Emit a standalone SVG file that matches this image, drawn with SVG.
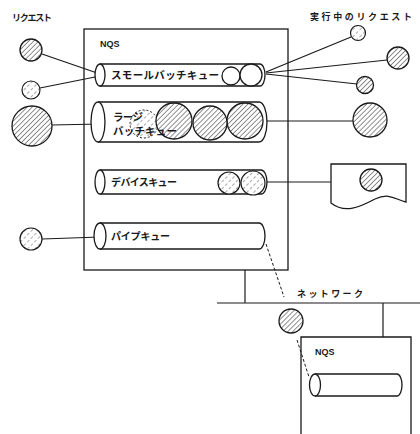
<svg xmlns="http://www.w3.org/2000/svg" width="420" height="434" viewBox="0 0 420 434">
<defs>
<pattern id="hatch" width="3.5" height="3.5" patternUnits="userSpaceOnUse" patternTransform="rotate(45)">
<rect width="3.5" height="3.5" fill="#fff"/>
<line x1="0" y1="0" x2="0" y2="3.5" stroke="#222" stroke-width="1"/>
</pattern>
<pattern id="hatchLight" width="5" height="5" patternUnits="userSpaceOnUse" patternTransform="rotate(45)">
<rect width="5" height="5" fill="#fff"/>
<line x1="0" y1="0" x2="0" y2="5" stroke="#444" stroke-width="0.9" stroke-dasharray="2 2"/>
</pattern>
</defs>
<style>
.ln{stroke:#1a1a1a;stroke-width:1.2;fill:none}
.box{stroke:#1a1a1a;stroke-width:1.3;fill:none}
.cyl{stroke:#1a1a1a;stroke-width:1.3;fill:#fff}
.hc{stroke:#1a1a1a;stroke-width:1.3;fill:url(#hatch)}
.lc{stroke:#1a1a1a;stroke-width:1.2;fill:url(#hatchLight)}
.wc{stroke:#1a1a1a;stroke-width:1.3;fill:#fff}
.dash{stroke:#1a1a1a;stroke-width:1;fill:none;stroke-dasharray:3 2}
.jp{font-family:"Noto Sans CJK JP","Noto Sans CJK SC",sans-serif;fill:#1a1a1a;font-weight:bold}
.en{font-family:"Liberation Sans",Arial,sans-serif;fill:#1a1a1a;font-weight:bold;font-size:9px}
</style>

<text class="jp" x="12" y="21" font-size="9" textLength="40">リクエスト</text>
<text class="jp" x="310" y="20" font-size="9" textLength="102">実行中のリクエスト</text>

<g id="nqs-main">
<rect class="box" x="84" y="29" width="204" height="241"/>
<text class="en" x="100" y="47">NQS</text>
</g>

<g id="connectors">
<line class="ln" x1="42" y1="54" x2="100" y2="74"/>
<line class="ln" x1="40" y1="88" x2="100" y2="76"/>
<line class="ln" x1="52" y1="125" x2="100" y2="124"/>
<line class="ln" x1="42" y1="239" x2="100" y2="237"/>
<line class="ln" x1="266" y1="72" x2="351" y2="37"/>
<line class="ln" x1="266" y1="73" x2="387" y2="60"/>
<line class="ln" x1="266" y1="74" x2="357" y2="84"/>
<line class="ln" x1="267" y1="121" x2="353" y2="121"/>
<line class="ln" x1="267" y1="182" x2="331" y2="182"/>
<line class="ln" x1="245" y1="270" x2="245" y2="303"/>
<line class="ln" x1="217" y1="303" x2="420" y2="303"/>
<line class="ln" x1="383" y1="303" x2="383" y2="337"/>
<line class="dash" x1="266" y1="244" x2="284" y2="297"/>
<line class="dash" x1="297" y1="340" x2="309" y2="377"/>
</g>

<g id="req-small-1"><circle class="hc" cx="31" cy="50" r="11"/></g>
<g id="req-small-2"><circle class="lc" cx="31" cy="90" r="9"/></g>
<g id="req-large"><circle class="hc" cx="32" cy="126" r="20"/></g>
<g id="req-pipe"><circle class="lc" cx="31" cy="239" r="11"/></g>

<g id="small-batch-queue">
<path class="cyl" d="M100,64 H260 A5,11 0 0 1 260,86 H100"/>
<ellipse class="cyl" cx="100" cy="75" rx="5" ry="11"/>
<text class="jp" x="111" y="79" font-size="10.5" textLength="108">スモールバッチキュー</text>
<circle class="wc" cx="231" cy="76" r="9"/>
<circle class="wc" cx="251" cy="75" r="11"/>
</g>

<g id="large-batch-queue">
<path class="cyl" d="M98,102 H259 A8,20 0 0 1 259,142 H98"/>
<ellipse class="cyl" cx="98" cy="122" rx="7" ry="20"/>
<circle cx="144" cy="124" r="14" fill="url(#hatchLight)" stroke="#1a1a1a" stroke-width="1" stroke-dasharray="2 2"/>
<circle class="hc" cx="245" cy="121" r="18"/>
<circle class="hc" cx="210" cy="123" r="17"/>
<circle class="hc" cx="174" cy="121" r="18"/>
<text class="jp" x="113" y="121" font-size="10.5" textLength="30">ラージ</text>
<text class="jp" x="113" y="135" font-size="10.5" textLength="64">バッチキュー</text>
</g>

<g id="device-queue">
<path class="cyl" d="M100,170 H261 A6,12 0 0 1 261,194 H100"/>
<ellipse class="cyl" cx="100" cy="182" rx="5" ry="12"/>
<text class="jp" x="111" y="186" font-size="10" textLength="66">デバイスキュー</text>
<circle class="lc" cx="229" cy="183" r="11"/>
<circle class="lc" cx="253" cy="183" r="12"/>
</g>

<g id="pipe-queue">
<path class="cyl" d="M100,223 H259 A6,13 0 0 1 259,249 H100"/>
<ellipse class="cyl" cx="100" cy="236" rx="6" ry="13"/>
<text class="jp" x="111" y="240" font-size="10" textLength="59">パイプキュー</text>
</g>

<g id="run-1"><circle class="lc" cx="358" cy="33" r="7.5"/></g>
<g id="run-2"><circle class="hc" cx="398" cy="58" r="11"/></g>
<g id="run-3"><circle class="hc" cx="365" cy="85" r="8.5"/></g>
<g id="run-4"><circle class="hc" cx="370" cy="120" r="17"/></g>

<g id="device">
<path class="box" d="M331,164 H406 V202 C396,200 390,192 375,199 C360,207 345,214 331,203 Z"/>
<circle class="hc" cx="371" cy="180" r="11"/>
</g>

<text class="jp" x="297" y="297" font-size="9" textLength="66">ネットワーク</text>

<g id="net-request"><circle class="hc" cx="291" cy="321" r="12"/></g>

<g id="nqs-remote">
<path class="box" d="M301,434 V337 H411 V434"/>
<text class="en" x="315" y="355">NQS</text>
<path class="cyl" d="M315,374 H397 A5,11 0 0 1 397,396 H315"/>
<ellipse class="cyl" cx="315" cy="385" rx="5.5" ry="11"/>
</g>
</svg>
